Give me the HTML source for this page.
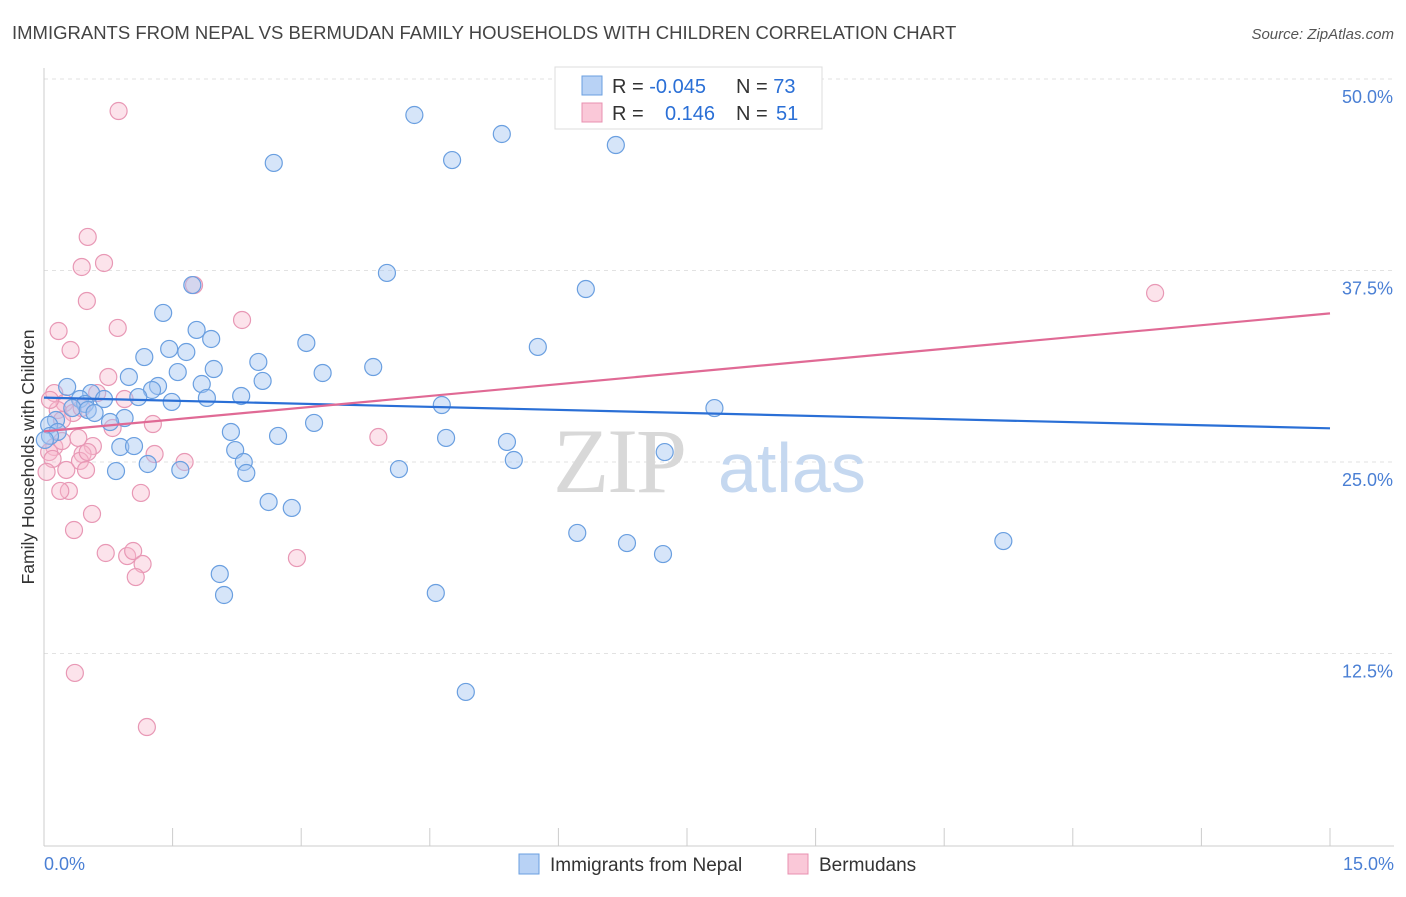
<!DOCTYPE html>
<html><head><meta charset="utf-8"><style>
body{margin:0;background:#fff;font-family:"Liberation Sans",sans-serif;}
</style></head><body>
<svg width="1406" height="892" viewBox="0 0 1406 892" xmlns="http://www.w3.org/2000/svg" font-family="Liberation Sans, sans-serif">
<text x="12" y="39" font-size="18.5" fill="#444">IMMIGRANTS FROM NEPAL VS BERMUDAN FAMILY HOUSEHOLDS WITH CHILDREN CORRELATION CHART</text>
<text x="1394" y="39" font-size="15" fill="#555" font-style="italic" text-anchor="end">Source: ZipAtlas.com</text>
<g id="grid"></g>
<g>
<text x="553" y="492" font-size="92" fill="#d8d8d8" font-family="Liberation Serif, serif" letter-spacing="-2">ZIP</text>
<text x="718" y="492" font-size="70" fill="#c5d8f0">atlas</text>
</g>
<line x1="44" y1="68" x2="44" y2="846" stroke="#ccc"/>
<line x1="44" y1="846" x2="1394" y2="846" stroke="#ccc"/>
<g id="xticks"></g>
<text x="44" y="870" font-size="18" fill="#4a7fd4">0.0%</text>
<text x="1394" y="870" font-size="18" fill="#4a7fd4" text-anchor="end">15.0%</text>
<text transform="translate(34,457) rotate(-90)" font-size="17.5" fill="#333" text-anchor="middle">Family Households with Children</text>
<g id="pink"></g>
<g id="blue"></g>
<g id="lines"></g>
<g>
<rect x="555" y="67" width="267" height="62" fill="#fff" stroke="#ddd"/>
<rect x="582" y="76" width="20" height="19" fill="#b8d2f5" stroke="#6a9fe0"/>
<rect x="582" y="103" width="20" height="19" fill="#fac8d8" stroke="#e890b0"/>
<text x="612" y="93" font-size="20" fill="#333">R = <tspan fill="#2a6fd6">-0.045</tspan><tspan x="736">N = </tspan><tspan fill="#2a6fd6">73</tspan></text>
<text x="612" y="120" font-size="20" fill="#333">R = <tspan x="665" fill="#2a6fd6">0.146</tspan><tspan x="736">N = </tspan><tspan x="776" fill="#2a6fd6">51</tspan></text>
</g>
<g>
<rect x="519" y="854" width="20" height="20" fill="#b8d2f5" stroke="#6a9fe0"/>
<text x="550" y="871" font-size="19" fill="#333">Immigrants from Nepal</text>
<rect x="788" y="854" width="20" height="20" fill="#fac8d8" stroke="#e890b0"/>
<text x="819" y="871" font-size="19" fill="#333">Bermudans</text>
</g>
</svg>
<script>
const yTicks=[12.5,25,37.5,50];
const yTickLabels=["12.5%","25.0%","37.5%","50.0%"];
const xTickVals=[0,1.5,3,4.5,6,7.5,9,10.5,12,13.5,15];
const nepalX=[4.32,5.34,6.67,4.76,2.68,4.00,6.32,1.73,1.39,1.78,1.95,3.06,5.76,1.46,1.66,1.17,2.50,3.84,3.25,1.56,1.98,0.99,2.55,1.84,0.27,1.33,1.26,0.55,2.30,1.90,1.49,1.10,0.70,0.42,0.48,0.33,0.51,4.64,7.82,0.59,0.94,0.77,3.15,0.14,0.06,2.18,0.16,0.07,2.73,4.69,5.40,0.89,1.05,2.23,7.24,2.33,5.48,1.21,1.59,2.36,4.14,0.84,2.62,2.89,6.22,6.80,7.22,11.19,2.05,2.10,4.57,4.92,0.01];
const nepalY=[47.65,46.41,45.69,44.71,44.52,37.34,36.29,36.55,34.73,33.62,33.03,32.77,32.51,32.38,32.18,31.85,31.53,31.20,30.81,30.87,31.07,30.55,30.29,30.09,29.90,29.96,29.70,29.50,29.31,29.18,28.92,29.24,29.11,29.11,28.79,28.52,28.39,28.72,28.52,28.20,27.87,27.61,27.55,27.74,27.42,26.96,26.96,26.70,26.70,26.57,26.31,25.98,26.04,25.78,25.65,25.00,25.13,24.87,24.48,24.28,24.54,24.41,22.39,22.00,20.37,19.71,18.99,19.84,17.69,16.32,16.45,9.99,26.44];
const bermX=[0.87,0.51,0.70,0.44,0.50,1.75,2.31,0.86,0.17,0.31,0.75,0.12,0.62,0.94,0.24,0.16,0.34,0.44,0.21,0.80,1.27,3.90,0.40,0.57,0.12,0.06,0.45,0.42,0.51,1.29,1.64,0.10,0.49,0.26,0.03,0.29,0.19,1.13,0.56,0.35,0.72,0.97,1.04,1.15,2.95,1.07,12.96,0.36,1.20,0.07,0.21];
const bermY=[47.91,39.69,37.99,37.73,35.51,36.55,34.27,33.75,33.55,32.31,30.55,29.50,29.50,29.11,28.85,28.39,28.20,28.52,27.74,27.22,27.48,26.63,26.57,26.04,25.98,25.65,25.52,25.07,25.65,25.52,25.00,25.20,24.48,24.48,24.35,23.11,23.11,22.98,21.61,20.56,19.06,18.86,19.19,18.34,18.73,17.49,36.03,11.23,7.70,29.05,26.37];
const nepalTrend=[29.2,27.2];
const bermTrend=[27.0,34.7];
const NS="http://www.w3.org/2000/svg";
const sx=v=>44+v*(1286/15);
const sy=v=>845-v*15.32;
function mk(tag,attrs,parent){const e=document.createElementNS(NS,tag);for(const k in attrs)e.setAttribute(k,attrs[k]);parent.appendChild(e);return e;}
const grid=document.getElementById('grid');
yTicks.forEach((t,i)=>{
  const l=mk('line',{x1:44,x2:1394,y1:sy(t),y2:sy(t),stroke:'#e2e2e2','stroke-dasharray':'4,4'},grid);
  
  
  const tx=mk('text',{x:1393,y:sy(t)+24,'font-size':18,fill:'#4a7fd4','text-anchor':'end'},grid);
  tx.textContent=yTickLabels[i];
  
  
});
const xt=document.getElementById('xticks');
xTickVals.forEach(v=>{
  const l=mk('line',{x1:sx(v),x2:sx(v),y1:828,y2:846,stroke:'#ccc'},xt);
  
  
});
function pts(X,Y,g,fill,stroke,name){
  X.forEach((x,i)=>{
    const c=mk('circle',{cx:sx(x),cy:sy(Y[i]),r:8.5,fill:fill,stroke:stroke,'stroke-width':1.2},g);
    
    
  });
}
pts(bermX,bermY,document.getElementById('pink'),'rgba(248,185,205,0.4)','#e898b5','bermudans-point');
pts(nepalX,nepalY,document.getElementById('blue'),'rgba(165,198,242,0.45)','#6a9fe0','nepal-point');
const lg=document.getElementById('lines');
const l1=mk('line',{x1:sx(0),y1:sy(nepalTrend[0]),x2:sx(15),y2:sy(nepalTrend[1]),stroke:'#2a6fd6','stroke-width':2.2},lg);


const l2=mk('line',{x1:sx(0),y1:sy(bermTrend[0]),x2:sx(15),y2:sy(bermTrend[1]),stroke:'#e06a95','stroke-width':2.2},lg);


</script>
</body></html>
